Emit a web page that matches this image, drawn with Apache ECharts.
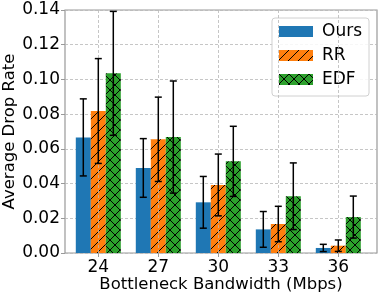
<!DOCTYPE html>
<html><head><meta charset="utf-8">
<script src="https://cdn.jsdelivr.net/npm/echarts@6/dist/echarts.min.js"></script>
<style>html,body{margin:0;padding:0;background:#fff}#c{width:381px;height:297px}</style>
</head><body><div id="c"></div>
<script>
var categories = [24, 27, 30, 33, 36];
var seriesNames = ['Ours', 'RR', 'EDF'];
var oursMean = [0.0666, 0.0490, 0.0292, 0.0136, 0.0029];
var oursErr  = [0.0222, 0.0169, 0.0149, 0.0103, 0.0021];
var rrMean   = [0.0818, 0.0655, 0.0392, 0.0167, 0.0042];
var rrErr    = [0.0302, 0.0243, 0.0178, 0.0102, 0.0033];
var edfMean  = [0.1035, 0.0668, 0.0528, 0.0327, 0.0207];
var edfErr   = [0.0357, 0.0323, 0.0202, 0.0192, 0.0121];

var FONT = 'DejaVu Sans';
var FS = 17;
var FT = 16.5;
var BAR_UNIT = 0.75; // bar width in x units

function makePattern(bg, kind) {
  var s = 10;
  var cv = document.createElement('canvas');
  cv.width = s; cv.height = s;
  var ctx = cv.getContext('2d');
  ctx.fillStyle = bg; ctx.fillRect(0, 0, s, s);
  ctx.strokeStyle = '#000'; ctx.lineWidth = 1;
  function line(x1, y1, x2, y2) { ctx.beginPath(); ctx.moveTo(x1, y1); ctx.lineTo(x2, y2); ctx.stroke(); }
  line(-1, s + 1, s + 1, -1);
  line(-1, 1, 1, -1);
  line(s - 1, s + 1, s + 1, s - 1);
  if (kind === 'x') {
    line(-1, -1, s + 1, s + 1);
    line(s - 1, -1, s + 1, 1);
    line(-1, s - 1, 1, s + 1);
  }
  return { image: cv, repeat: 'repeat' };
}

var colors = ['#1f77b4', makePattern('#ff7f0e', '/'), makePattern('#2ca02c', 'x')];
var means = [oursMean, rrMean, edfMean];
var errs = [oursErr, rrErr, edfErr];

var series = [];
seriesNames.forEach(function (name, k) {
  var off = (k - 1) * BAR_UNIT;
  series.push({
    name: name, type: 'bar', barWidth: 15, barGap: '-100%',
    itemStyle: { color: colors[k] },
    data: categories.map(function (c, i) { return [c + off, means[k][i]]; }),
    z: 2
  });
});
seriesNames.forEach(function (name, k) {
  var off = (k - 1) * BAR_UNIT;
  series.push({
    type: 'custom', z: 5, silent: true,
    data: categories.map(function (c, i) { return [c + off, means[k][i] - errs[k][i], means[k][i] + errs[k][i]]; }),
    renderItem: function (params, api) {
      var lo = api.coord([api.value(0), api.value(1)]);
      var hi = api.coord([api.value(0), api.value(2)]);
      var cw = 3.5;
      var st = { stroke: '#000', lineWidth: 1.5 };
      return { type: 'group', children: [
        { type: 'line', shape: { x1: lo[0], y1: lo[1], x2: hi[0], y2: hi[1] }, style: st },
        { type: 'line', shape: { x1: lo[0] - cw, y1: lo[1], x2: lo[0] + cw, y2: lo[1] }, style: st },
        { type: 'line', shape: { x1: hi[0] - cw, y1: hi[1], x2: hi[0] + cw, y2: hi[1] }, style: st }
      ]};
    }
  });
});
series.push({
  type: 'line', data: [], silent: true,
  markLine: { symbol: 'none', silent: true, label: { show: false },
    lineStyle: { color: '#b8b8b8', type: [3, 2], width: 0.8 },
    data: categories.map(function (c) { return { xAxis: c }; }) },
  z: 0
});

var chart = echarts.init(document.getElementById('c'), null, { renderer: 'canvas' });
chart.setOption({
  animation: false,
  backgroundColor: '#fff',
  grid: { left: 65, right: 4, top: 10, bottom: 44, show: true, borderColor: '#999', borderWidth: 1.2, backgroundColor: 'transparent', containLabel: false, outerBoundsMode: 'none' },
  legend: {
    data: seriesNames, orient: 'vertical', right: 12, top: 18,
    icon: 'rect', itemWidth: 34, itemHeight: 11, itemGap: 7,
    backgroundColor: 'rgba(255,255,255,0.85)', borderColor: '#d0d0d0', borderWidth: 1, borderRadius: 3,
    padding: [5, 7, 8, 7],
    textStyle: { fontFamily: FONT, fontSize: FS, color: '#000', padding: [0, 0, 0, 4] }
  },
  xAxis: {
    type: 'value', min: 22.335, max: 37.935,
    name: 'Bottleneck Bandwidth (Mbps)', nameLocation: 'middle', nameGap: 23, nameMoveOverlap: false,
    nameTextStyle: { fontFamily: FONT, fontSize: FT, color: '#000' },
    axisLine: { show: false },
    axisTick: { show: true, customValues: categories, length: 4, lineStyle: { color: '#999' } },
    axisLabel: { customValues: categories, fontFamily: FONT, fontSize: FS, color: '#000', margin: 6 },
    splitLine: { show: false }
  },
  yAxis: {
    type: 'value', min: 0, max: 0.14, interval: 0.02,
    name: 'Average Drop Rate', nameLocation: 'middle', nameGap: 47, nameMoveOverlap: false,
    nameTextStyle: { fontFamily: FONT, fontSize: FT, color: '#000' },
    axisLine: { show: false },
    axisTick: { show: true, length: 4, lineStyle: { color: '#999' } },
    axisLabel: { fontFamily: FONT, fontSize: FS, color: '#000', margin: 5,
      formatter: function (v) { return v.toFixed(2); } },
    splitLine: { show: true, lineStyle: { color: '#b8b8b8', type: [3, 2], width: 0.8 } }
  },
  series: series
});
</script></body></html>
